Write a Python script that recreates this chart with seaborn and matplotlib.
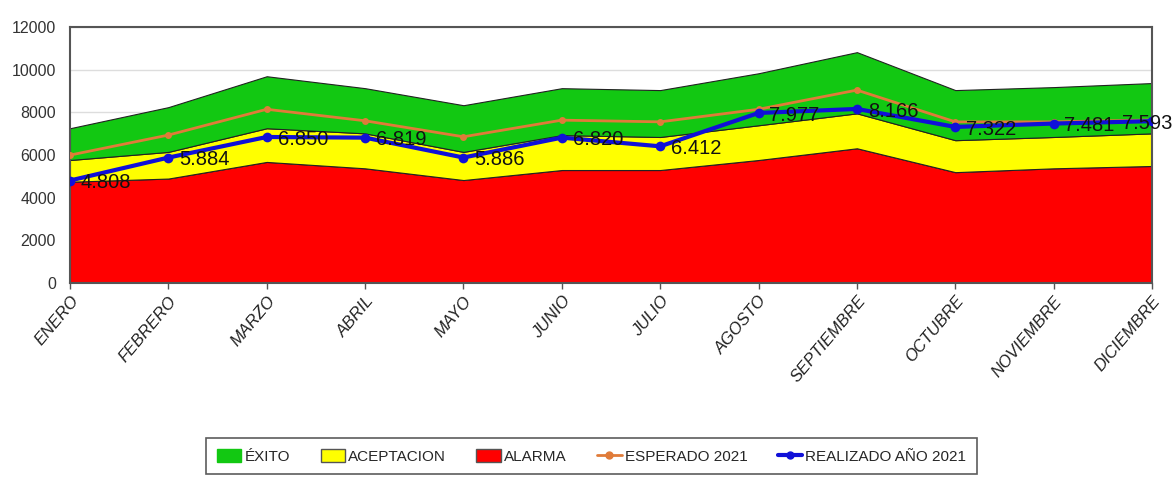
# %% Data
import matplotlib.pyplot as plt
import numpy as np
import pandas as pd
import seaborn as sns
from matplotlib.lines import Line2D
from matplotlib.patches import Patch

meses = ["ENERO", "FEBRERO", "MARZO", "ABRIL", "MAYO", "JUNIO", "JULIO",
         "AGOSTO", "SEPTIEMBRE", "OCTUBRE", "NOVIEMBRE", "DICIEMBRE"]

# stacked bands (alarma at the bottom, then aceptacion, then exito)
alarma = [4750, 4900, 5680, 5380, 4830, 5300, 5300, 5770, 6320, 5200, 5380, 5490]
aceptacion = [1020, 1250, 1580, 1640, 1320, 1640, 1550, 1630, 1640, 1500, 1470, 1530]
exito = [1490, 2100, 2440, 2120, 2190, 2200, 2200, 2440, 2870, 2350, 2340, 2360]

esperado_2021 = [6000, 6940, 8150, 7610, 6860, 7640, 7560, 8150, 9050, 7560, 7560, 7650]
realizado_2021 = [4808, 5884, 6850, 6819, 5886, 6820, 6412, 7977, 8166, 7322, 7481, 7593]

# %% Plot
sns.set_style("white")
plt.rcParams["font.family"] = ["Liberation Sans", "DejaVu Sans"]

df = pd.DataFrame({
    "pos": np.arange(len(meses)),
    "esperado": esperado_2021,
    "realizado": realizado_2021,
})

fig = plt.figure(figsize=(11.74, 4.86), dpi=100)
ax = fig.add_axes([0.0596, 0.4177, 0.9217, 0.5263])

ax.stackplot(df["pos"], alarma, aceptacion, exito,
             colors=["#FF0000", "#FFFF00", "#12C812"],
             edgecolor="#222222", linewidth=0.8, zorder=2)

sns.lineplot(data=df, x="pos", y="esperado", ax=ax, color="#E07B39",
             linewidth=2, marker="o", markersize=5, markeredgewidth=0, zorder=3)
sns.lineplot(data=df, x="pos", y="realizado", ax=ax, color="#1010D8",
             linewidth=3, marker="o", markersize=7, markeredgewidth=0, zorder=4)

last = len(realizado_2021) - 1
for i, v in enumerate(realizado_2021):
    txt = f"{v:,}".replace(",", ".")
    if i == last:
        # keep the last label inside the picture
        ax.text(i + 0.205, v - 100, txt, fontsize=14.5, ha="right", va="center",
                color="#111111", zorder=5, clip_on=False)
    else:
        ax.text(i + 0.11, v - 100, txt, fontsize=14.5, ha="left", va="center",
                color="#111111", zorder=5)

ax.set_xlim(0, last)
ax.set_ylim(0, 12000)
ax.set_yticks(range(0, 12001, 2000))
ax.set_yticklabels([str(t) for t in range(0, 12001, 2000)], fontsize=11.5, color="#333333")
ax.set_xticks(df["pos"])
ax.set_xticklabels(meses, rotation=50, ha="right", rotation_mode="anchor",
                   fontsize=12, style="italic", color="#222222")
ax.tick_params(axis="x", length=4, width=1, color="#555555", direction="out", bottom=True)
ax.tick_params(axis="y", length=0, pad=10)
ax.grid(axis="y", color="#DDDDDD", linewidth=1, zorder=0)
ax.set_axisbelow(True)
ax.set_xlabel("")
ax.set_ylabel("")
for side in ["top", "right", "left", "bottom"]:
    ax.spines[side].set_color("#555555")
    ax.spines[side].set_linewidth(1.5)

handles = [
    Patch(facecolor="#12C812", edgecolor="#12C812", label="ÉXITO"),
    Patch(facecolor="#FFFF00", edgecolor="#555555", label="ACEPTACION"),
    Patch(facecolor="#FF0000", edgecolor="#555555", label="ALARMA"),
    Line2D([0], [0], color="#E07B39", linewidth=2, marker="o", markersize=5, label="ESPERADO 2021"),
    Line2D([0], [0], color="#1010D8", linewidth=3, marker="o", markersize=5, label="REALIZADO AÑO 2021"),
]
leg = fig.legend(handles=handles, loc="center", bbox_to_anchor=(0.504, 0.061), ncol=5,
                 frameon=True, fancybox=False, edgecolor="#333333", fontsize=11,
                 handlelength=1.6, handleheight=0.9, handletextpad=0.2, columnspacing=2.0,
                 borderpad=0.7)
leg.get_frame().set_linewidth(1.2)

fig.savefig("out.png", dpi=100)
plt.close(fig)
